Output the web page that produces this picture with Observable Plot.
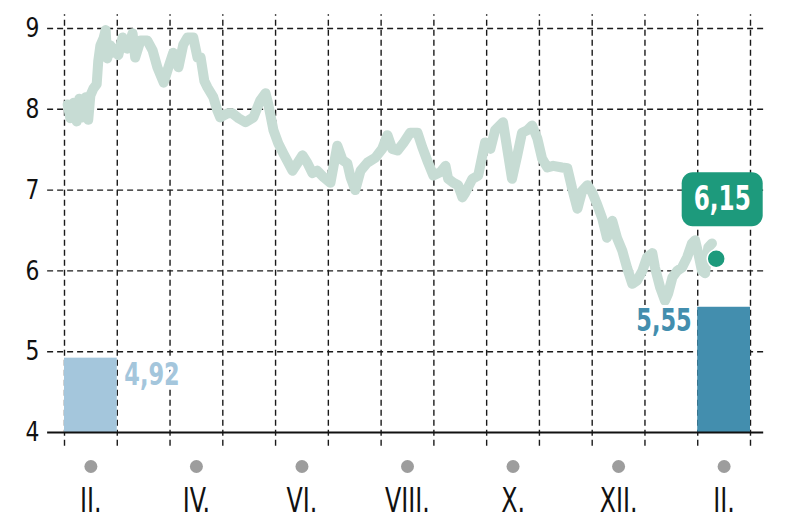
<!DOCTYPE html>
<html><head><meta charset="utf-8">
<script src="https://cdn.jsdelivr.net/npm/d3@7"></script>
<script src="https://cdn.jsdelivr.net/npm/@observablehq/plot@0.6"></script>
<style>
html,body{margin:0;padding:0;background:#fff;overflow:hidden;}
#chart svg{display:block;}
</style>
</head><body><div id="chart"></div>
<script>
// x = months elapsed since the start of February (year 1); y = value
const lineMonths = [0.06,0.11,0.17,0.23,0.28,0.34,0.40,0.45,0.49,0.55,0.61,0.64,0.68,0.74,0.78,0.81,0.87,0.91,0.97,1.02,
  1.10,1.19,1.29,1.34,1.44,1.57,1.67,1.76,1.88,1.97,2.06,2.16,2.25,2.33,2.44,2.52,2.58,2.65,2.71,2.82,
  2.90,2.95,3.09,3.18,3.30,3.43,3.58,3.71,3.81,3.86,3.96,4.05,4.15,4.32,4.41,4.51,4.60,4.70,4.79,4.91,
  5.04,5.17,5.27,5.36,5.42,5.51,5.61,5.74,5.89,6.02,6.12,6.21,6.31,6.42,6.55,6.69,6.78,6.89,6.99,7.12,
  7.22,7.27,7.37,7.46,7.54,7.59,7.73,7.84,7.97,8.07,8.16,8.31,8.41,8.48,8.58,8.67,8.77,8.86,8.96,9.05,
  9.15,9.26,9.43,9.53,9.62,9.72,9.81,9.91,10.00,10.09,10.19,10.28,10.38,10.47,10.57,10.66,10.76,10.85,10.95,11.04,
  11.14,11.19,11.29,11.38,11.44,11.52,11.61,11.70,11.80,11.89,11.95,12.01,12.08,12.14,12.20,12.27];
const lineValues = [8.06,7.89,8.08,7.85,8.13,7.90,8.15,7.87,8.17,8.26,8.31,8.60,8.79,8.88,8.98,8.63,8.79,8.70,8.75,8.67,
  8.89,8.75,8.94,8.64,8.85,8.85,8.73,8.52,8.33,8.52,8.70,8.52,8.80,8.89,8.89,8.64,8.64,8.35,8.27,8.15,
  7.98,7.90,7.95,7.95,7.89,7.84,7.90,8.11,8.20,8.07,7.74,7.58,7.45,7.24,7.33,7.43,7.34,7.21,7.24,7.16,
  7.09,7.55,7.37,7.33,7.16,7.00,7.24,7.34,7.40,7.51,7.68,7.51,7.49,7.58,7.71,7.71,7.53,7.34,7.18,7.22,
  7.30,7.14,7.09,7.06,6.91,6.96,7.14,7.18,7.59,7.51,7.74,7.84,7.43,7.14,7.43,7.71,7.74,7.80,7.64,7.39,
  7.28,7.30,7.28,7.27,7.02,6.77,6.99,7.06,6.97,6.83,6.65,6.41,6.62,6.41,6.25,6.04,5.84,5.88,6.00,6.17,
  6.22,6.04,5.79,5.63,5.72,5.92,6.00,6.04,6.17,6.34,6.38,6.22,6.00,5.97,6.29,6.34];

const yTicks = [4, 5, 6, 7, 8, 9];
const monthEdges = [0,1,2,3,4,5,6,7,8,9,10,11,12,13];
const labelMonths = [0.5, 2.5, 4.5, 6.5, 8.5, 10.5, 12.5];
const monthLabels = ["II.", "IV.", "VI.", "VIII.", "X.", "XII.", "II."];

const barStarts = [0, 12];
const barValues = [4.92, 5.55];
const barLabels = ["4,92", "5,55"];

const lastMonth = 12.35;
const lastValue = 6.15;
const lastLabel = "6,15";

const series = lineMonths.map((m, i) => ({m, v: lineValues[i]}));
const bars = barStarts.map((s, i) => ({s, v: barValues[i], label: barLabels[i]}));
const last = [{m: lastMonth, v: lastValue, label: lastLabel}];

const FONT = '"Liberation Sans Narrow", "Arial Narrow", "DejaVu Sans Condensed", sans-serif';
const gridStyle = {stroke: "#1a1a1a", strokeWidth: 1.4, strokeDasharray: "6,4"};

const chart = Plot.plot({
  width: 797, height: 527,
  marginLeft: 64, marginRight: 47, marginTop: 28, marginBottom: 95,
  x: {domain: [0, 13], axis: null},
  y: {domain: [4, 9], axis: null},
  style: {fontFamily: FONT, background: "#fff", overflow: "visible"},
  marks: [
    Plot.ruleY(yTicks.filter(d => d > 4), {y: d => d, x1: -0.32, x2: 13.25, ...gridStyle}),
    Plot.ruleX(monthEdges, {x: d => d, y1: 3.83, y2: 9.17, ...gridStyle}),
    Plot.line(series, {x: "m", y: "v", stroke: "#c7dcd4", strokeWidth: 10, strokeLinejoin: "round", strokeLinecap: "round"}),
    Plot.rect(bars.slice(0, 1), {x1: "s", x2: d => d.s + 1, y1: 4, y2: "v", fill: "#a4c6dc"}),
    Plot.rect(bars.slice(1, 2), {x1: "s", x2: d => d.s + 1, y1: 4, y2: "v", fill: "#438eae"}),
    Plot.ruleY([4], {x1: -0.32, x2: 13.25, stroke: "#111", strokeWidth: 2.2}),
    Plot.text(bars.slice(0, 1), {x: d => d.s + 1, y: "v", text: "label", dx: 7, dy: 4, textAnchor: "start", lineAnchor: "top",
      fill: "#a4c6dc", fontSize: 32, fontWeight: "bold", stroke: "#fff", strokeWidth: 6, paintOrder: "stroke"}),
    Plot.text(bars.slice(1, 2), {x: "s", y: "v", text: "label", dx: -6, dy: 1, textAnchor: "end", lineAnchor: "top",
      fill: "#438eae", fontSize: 32, fontWeight: "bold", stroke: "#fff", strokeWidth: 6, paintOrder: "stroke"}),
    Plot.rect(last, {x1: "m", x2: "m", y1: "v", y2: "v", insetLeft: -34, insetRight: -47, insetTop: -86, insetBottom: 32,
      rx: 11, fill: "#1d9a7c"}),
    Plot.text(last, {x: "m", y: "v", text: "label", dx: 6, dy: -59, fill: "#fff", fontSize: 33, fontWeight: "bold"}),
    Plot.dot(last, {x: "m", y: "v", r: 9, fill: "#1d9a7c", stroke: "#fff", strokeWidth: 1.5}),
    Plot.text(yTicks, {y: d => d, text: d => String(d), frameAnchor: "left", dx: -25, textAnchor: "end", fontSize: 27, fill: "#111"}),
    Plot.dot(labelMonths, {x: d => d, frameAnchor: "bottom", dy: 34, r: 6.5, fill: "#9d9d9d"}),
    Plot.text(labelMonths, {x: d => d, text: (d, i) => monthLabels[i], frameAnchor: "bottom", dy: 56, lineAnchor: "top", fontSize: 33, fill: "#111"})
  ]
});
document.getElementById("chart").appendChild(chart);

// Narrow the glyphs to mimic the condensed typeface of the original
const boldTexts = new Set([...barLabels, lastLabel]);
const monthSet = new Set(monthLabels);
chart.querySelectorAll("text").forEach(t => {
  const s = t.textContent;
  let k = 1;
  if (boldTexts.has(s)) k = 0.78;
  else if (monthSet.has(s)) k = 0.8;
  else k = 0.9;
  const w = t.getComputedTextLength();
  t.setAttribute("textLength", (w * k).toFixed(1));
  t.setAttribute("lengthAdjust", "spacingAndGlyphs");
});
</script>
</body></html>
